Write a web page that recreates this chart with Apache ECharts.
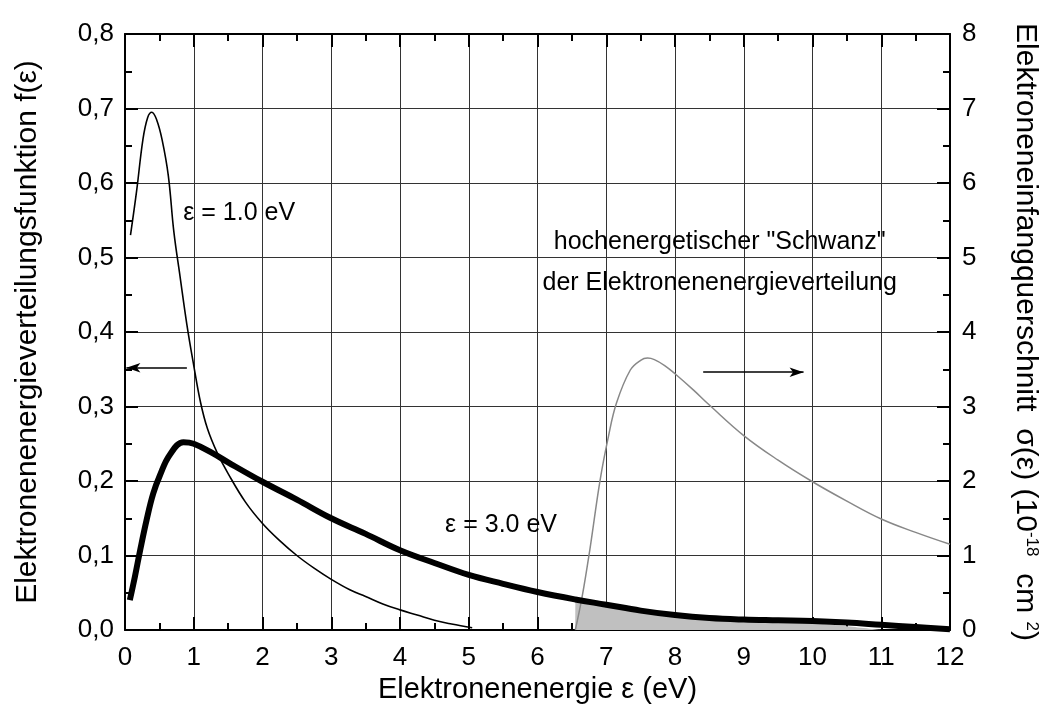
<!DOCTYPE html>
<html>
<head>
<meta charset="utf-8">
<script src="https://cdn.jsdelivr.net/npm/echarts@6/dist/echarts.min.js"></script>
<style>html,body{margin:0;padding:0;background:#fff;}#c{width:1050px;height:712px;}</style>
</head>
<body>
<div id="c"></div>
<script>
// ---- data ----
const xTicks = [0,1,2,3,4,5,6,7,8,9,10,11,12];
const thinX = [0.08,0.17,0.26,0.33,0.39,0.46,0.54,0.63,0.71,0.8,0.9,1.0,1.1,1.2,1.34,1.5,1.75,2.0,2.25,2.5,2.75,3.0,3.27,3.5,3.75,4.0,4.25,4.5,4.75,5.05];
const thinY = [0.53,0.59,0.658,0.688,0.695,0.685,0.658,0.61,0.535,0.475,0.41,0.355,0.305,0.27,0.238,0.21,0.172,0.143,0.12,0.10,0.083,0.068,0.054,0.045,0.035,0.027,0.02,0.013,0.008,0.003];
const thickX = [0.07,0.145,0.22,0.315,0.41,0.51,0.65,0.85,1.0,1.28,1.5,2.0,2.5,3.0,3.5,4.0,4.5,5.0,5.5,6.0,6.55,7.0,7.5,8.0,8.5,9.0,9.5,10.0,10.5,11.0,11.5,12.0];
const thickY = [0.04,0.072,0.107,0.148,0.183,0.208,0.235,0.252,0.25,0.237,0.225,0.199,0.175,0.15,0.129,0.107,0.09,0.074,0.062,0.051,0.041,0.034,0.026,0.02,0.016,0.014,0.013,0.012,0.01,0.007,0.004,0.001];
const tailX = [6.55,6.551,7.0,7.5,8.0,8.5,9.0,9.5,10.0,10.5,11.0];
const tailY = [0,0.04,0.033,0.025,0.019,0.015,0.013,0.011,0.009,0.005,0];
const sigX = [6.55,6.65,6.76,6.91,7.03,7.15,7.35,7.5,7.6,7.7,7.85,8.0,8.27,8.5,9.0,9.5,10.0,10.5,11.0,11.5,12.0];
const sigY = [0,0.45,1.07,2.01,2.59,3.05,3.49,3.62,3.65,3.63,3.55,3.44,3.22,3.02,2.61,2.28,1.99,1.73,1.49,1.31,1.15];
const leftTicks = ['0,0','0,1','0,2','0,3','0,4','0,5','0,6','0,7','0,8'];
const rightTicks = ['0','1','2','3','4','5','6','7','8'];

const FONT = '"Liberation Sans",Arial,sans-serif';
const zip = (a,b) => a.map((v,i)=>[v,b[i]]);

const chart = echarts.init(document.getElementById('c'));

const axisCommon = {
  axisLine: {show:true, onZero:false, lineStyle:{color:'#000', width:2}},
  axisTick: {show:true, inside:true, length:13, lineStyle:{color:'#000', width:2}},
  minorTick: {show:true, splitNumber:2, length:7, lineStyle:{color:'#000', width:2}},
  splitLine: {show:false},
  minorSplitLine: {show:false}
};

chart.setOption({
  animation:false,
  backgroundColor:'#fff',
  grid:{left:125, right:100, top:34, bottom:82, containLabel:false, outerBoundsMode:'none'},
  xAxis:[
    Object.assign({}, axisCommon, {
      type:'value', position:'bottom', min:0, max:12, interval:1,
      axisLabel:{show:true, margin:15, fontSize:26, fontFamily:FONT, color:'#000',
        formatter:v=>String(xTicks[Math.round(v)])},
      splitLine:{show:true, lineStyle:{color:'#333', width:1}},
      name:'Elektronenenergie ε (eV)', nameLocation:'middle', nameGap:45,
      nameTextStyle:{fontSize:29, fontFamily:FONT, color:'#000'}
    }),
    Object.assign({}, axisCommon, {
      type:'value', position:'top', min:0, max:12, interval:1,
      axisLabel:{show:false}
    })
  ],
  yAxis:[
    Object.assign({}, axisCommon, {
      type:'value', position:'left', min:0, max:0.8, interval:0.1,
      axisLabel:{show:true, margin:11, fontSize:26, fontFamily:FONT, color:'#000',
        formatter:v=>leftTicks[Math.round(v*10)]},
      splitLine:{show:true, lineStyle:{color:'#333', width:1}},
      name:'Elektronenenergieverteilungsfunktion f(ε)', nameLocation:'middle', nameRotate:90, nameGap:82,
      nameTextStyle:{fontSize:30, fontFamily:FONT, color:'#000'}
    }),
    Object.assign({}, axisCommon, {
      type:'value', position:'right', min:0, max:8, interval:1,
      axisLabel:{show:true, margin:12, fontSize:26, fontFamily:FONT, color:'#000',
        formatter:v=>rightTicks[Math.round(v)]},
      name:'Elektroneneinfangquerschnitt  σ(ε) (10{sup|-18}  cm {sup|2})', nameLocation:'middle', nameRotate:-90, nameGap:60,
      nameTextStyle:{fontSize:30, fontFamily:FONT, color:'#000',
        rich:{sup:{fontSize:17, fontFamily:FONT, color:'#000', verticalAlign:'top', lineHeight:30}}}
    })
  ],
  series:[
    {type:'line', name:'tail', xAxisIndex:0, yAxisIndex:0, data:zip(tailX,tailY), symbol:'none', smooth:0.2,
     lineStyle:{width:0}, areaStyle:{color:'#c0c0c0', opacity:1}, z:1},
    {type:'line', name:'sigma', xAxisIndex:0, yAxisIndex:1, data:zip(sigX,sigY), symbol:'none', smooth:0.4,
     lineStyle:{color:'#888', width:1.5}, z:2},
    {type:'line', name:'f1', xAxisIndex:0, yAxisIndex:0, data:zip(thinX,thinY), symbol:'none', smooth:0.4,
     lineStyle:{color:'#000', width:1.6}, z:3,
     markLine:{silent:true, symbol:['none','arrow'], symbolSize:[7,14], label:{show:false},
       lineStyle:{color:'#000', width:1.5, type:'solid'},
       data:[
         [{coord:[0.9,0.352]},{coord:[0.02,0.352]}],
         [{coord:[8.41,0.346]},{coord:[9.87,0.346]}]
       ]}},
    {type:'line', name:'f3', xAxisIndex:0, yAxisIndex:0, data:zip(thickX,thickY), symbol:'none', smooth:0.4,
     lineStyle:{color:'#000', width:6}, z:4}
  ]
});

function place(){
  const p = (x,y)=>chart.convertToPixel({xAxisIndex:0, yAxisIndex:0},[x,y]);
  const txt = (pos, s) => ({type:'text', x:pos[0], y:pos[1], z:10,
    style:{text:s, fontSize:25, fontFamily:FONT, fill:'#000', align:'center', verticalAlign:'middle'}});
  chart.setOption({graphic:[
    txt(p(1.66,0.56),'ε = 1.0 eV'),
    txt(p(5.47,0.141),'ε = 3.0 eV'),
    txt(p(8.65,0.521),'hochenergetischer "Schwanz"'),
    txt(p(8.65,0.466),'der Elektronenenergieverteilung')
  ]});
}
place();
</script>
</body>
</html>
